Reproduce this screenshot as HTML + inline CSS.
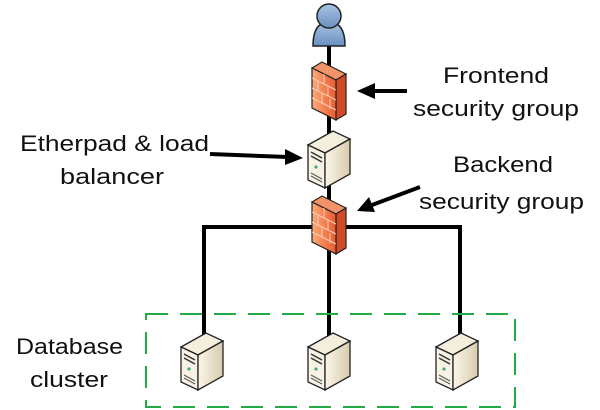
<!DOCTYPE html>
<html><head><style>body{margin:0;background:#fff}svg{display:block}</style></head>
<body>
<svg width="600" height="410" viewBox="0 0 600 410" xmlns="http://www.w3.org/2000/svg" font-family="Liberation Sans, sans-serif" font-size="22" fill="#111">
<defs>
<linearGradient id="fw" x1="0" y1="0" x2="1" y2="0"><stop offset="0" stop-color="#fbaa78"/><stop offset="1" stop-color="#ec5a30"/></linearGradient>
<linearGradient id="sv" x1="0" y1="0" x2="1" y2="0"><stop offset="0" stop-color="#fbf6ea"/><stop offset="1" stop-color="#d8ccac"/></linearGradient>
<linearGradient id="us" x1="0" y1="0" x2="0" y2="1"><stop offset="0" stop-color="#a8c4e4"/><stop offset="1" stop-color="#6a90c0"/></linearGradient>
<g id="server">
<polygon points="0,14 25,0 42,8 17,22" fill="#f4eedc" stroke="#222" stroke-width="1.3"/>
<polygon points="0,14 17,22 17,57 0,49" fill="#f7f2e4" stroke="#222" stroke-width="1.3"/>
<polygon points="17,22 42,8 42,43 17,57" fill="url(#sv)" stroke="#222" stroke-width="1.3"/>
<line x1="3" y1="21" x2="14" y2="27" stroke="#333" stroke-width="1.5"/>
<line x1="3" y1="25" x2="14" y2="31" stroke="#333" stroke-width="1.5"/>
<circle cx="8" cy="36" r="1.6" fill="#4a7"/>
<line x1="3" y1="42" x2="14" y2="48" stroke="#555"/><line x1="3" y1="45" x2="14" y2="51" stroke="#555"/>
</g>
<g id="fw1">
<polygon points="0,6 10,0 34,12 24,18" fill="#f39468" stroke="#222" stroke-width="1.2"/>
<polygon points="24,18 34,12 34,52 24,58" fill="#d24a26" stroke="#222" stroke-width="1.2"/>
<polygon points="0,6 24,18 24,58 0,46" fill="url(#fw)" stroke="#222" stroke-width="1.2"/>
<g stroke="#fbd0b8" stroke-width="1"><line x1="0" y1="16" x2="24" y2="28"/><line x1="0" y1="26" x2="24" y2="38"/><line x1="0" y1="36" x2="24" y2="48"/>
<line x1="12" y1="12" x2="12" y2="22"/><line x1="6" y1="19" x2="6" y2="29"/><line x1="16" y1="24" x2="16" y2="34"/><line x1="10" y1="31" x2="10" y2="41"/><line x1="18" y1="37" x2="18" y2="47"/></g>
</g>
</defs>
<g stroke="#000" stroke-width="4" fill="none">
<line x1="329" y1="40" x2="329" y2="230"/>
<polyline points="204,345 204,227 460,227 460,345"/>
<line x1="329" y1="227" x2="329" y2="345"/>
</g>
<rect x="146" y="314" width="369" height="93" fill="none" stroke="#22aa44" stroke-width="2" stroke-dasharray="22,12"/>
<!-- user -->
<path d="M313,46 Q313,22 329,22 Q345,22 345,46 Z" fill="url(#us)" stroke="#222" stroke-width="1.5"/>
<circle cx="329" cy="16" r="12" fill="url(#us)" stroke="#222" stroke-width="1.5"/>
<use href="#fw1" x="312" y="62"/>
<use href="#server" x="308" y="131"/>
<use href="#fw1" x="312" y="196"/>
<use href="#server" x="181" y="333"/>
<use href="#server" x="308" y="333"/>
<use href="#server" x="436" y="333"/>
<!-- arrows -->
<g stroke="#000" stroke-width="4"><line x1="407" y1="91" x2="372" y2="91"/><line x1="210" y1="154" x2="288" y2="157"/><line x1="420" y1="187" x2="372" y2="205"/></g>
<polygon points="357,91 375,83 375,99" fill="#000"/>
<polygon points="303,158 285,149 285,165" fill="#000"/>
<polygon points="357,211 369,197 375,212" fill="#000"/>
<text x="443" y="83" textLength="106" lengthAdjust="spacingAndGlyphs">Frontend</text>
<text x="413" y="116" textLength="166" lengthAdjust="spacingAndGlyphs">security group</text>
<text x="453" y="172" textLength="100" lengthAdjust="spacingAndGlyphs">Backend</text>
<text x="419" y="209" textLength="165" lengthAdjust="spacingAndGlyphs">security group</text>
<text x="20" y="151" textLength="189" lengthAdjust="spacingAndGlyphs">Etherpad &amp; load</text>
<text x="60" y="184" textLength="104" lengthAdjust="spacingAndGlyphs">balancer</text>
<text x="16" y="354" textLength="107" lengthAdjust="spacingAndGlyphs">Database</text>
<text x="30" y="387" textLength="78" lengthAdjust="spacingAndGlyphs">cluster</text>
</svg>
</body></html>
